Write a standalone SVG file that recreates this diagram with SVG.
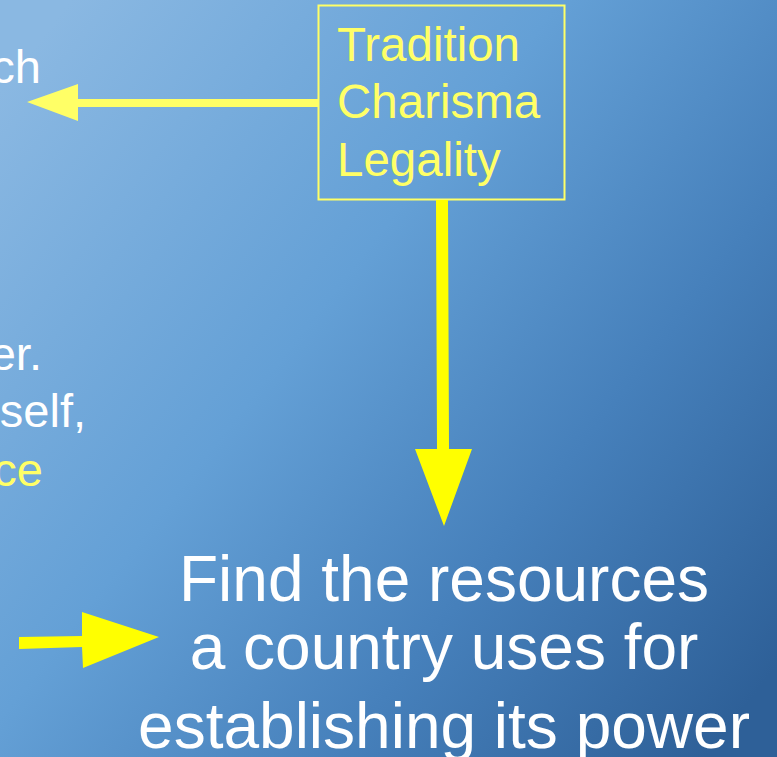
<svg xmlns="http://www.w3.org/2000/svg" width="777" height="757" viewBox="0 0 777 757">
<defs>
<linearGradient id="bg" x1="0" y1="0.12" x2="1" y2="0.88">
<stop offset="0" stop-color="#8ab8e2"/>
<stop offset="0.4" stop-color="#64a0d6"/>
<stop offset="0.7" stop-color="#4680bb"/>
<stop offset="1" stop-color="#2e6098"/>
</linearGradient>
<style>
.t{font-family:"Liberation Sans",Arial,sans-serif}
.w{fill:#ffffff}
.y{fill:#ffff66}
</style>
</defs>
<rect width="777" height="757" fill="url(#bg)"/>
<g id="left-text" class="t">
<text x="41" y="83" class="w" font-size="47" text-anchor="end">ch</text>
<text x="42" y="370" class="w" font-size="47" text-anchor="end">er.</text>
<text x="86" y="427" class="w" font-size="47" text-anchor="end">self,</text>
<text x="43" y="486" class="y" font-size="47" text-anchor="end">ce</text>
</g>
<g id="sources-box">
<rect x="318.5" y="5.5" width="246" height="194" fill="none" stroke="#ffff66" stroke-width="2"/>
<text class="t y" font-size="47.5" x="337" y="61">Tradition</text>
<text class="t y" font-size="47.5" x="337" y="118">Charisma</text>
<text class="t y" font-size="47.5" x="337" y="176">Legality</text>
</g>
<g id="goal">
<text class="t w" font-size="64" text-anchor="middle" x="444" y="601">Find the resources</text>
<text class="t w" font-size="64" text-anchor="middle" x="444" y="669">a country uses for</text>
<text class="t w" font-size="64" text-anchor="middle" x="444" y="748">establishing its power</text>
</g>
<g id="connectors">
<path d="M318 99 L78 99 L78 84 L27 102 L78 121 L78 107 L318 107 Z" fill="#ffff66"/>
<path d="M436 200 L448 200 L449 449 L472 449 L444 526 L415 449 L437 449 Z" fill="#ffff00"/>
<path d="M19 637 L82 636 L82 612 L159 637 L83 668 L82 647 L19 649 Z" fill="#ffff00"/>
</g>
</svg>
